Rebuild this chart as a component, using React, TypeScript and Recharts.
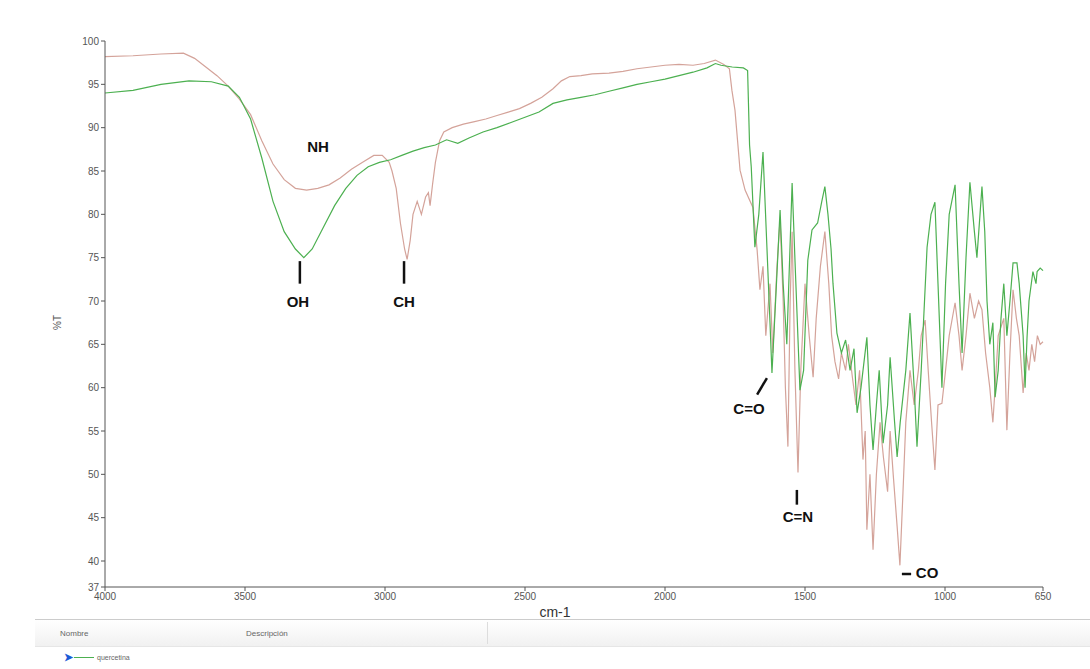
import { LineChart, Line, XAxis, YAxis, ReferenceLine, ReferenceDot } from "recharts"

// wavenumber (cm-1), %T
const quercetina: [number, number][] = [
    [4000, 94.0], [3900, 94.3], [3800, 95.0], [3700, 95.4], [3620, 95.3], [3560, 94.8],
    [3520, 93.5], [3480, 91.0], [3440, 86.5], [3400, 81.5], [3360, 78.0], [3320, 76.0],
    [3290, 75.0], [3260, 76.0], [3220, 78.5], [3180, 81.0], [3140, 83.0], [3100, 84.5],
    [3060, 85.5], [3020, 86.0], [2980, 86.3], [2940, 86.8], [2900, 87.3], [2860, 87.7],
    [2820, 88.0], [2780, 88.6], [2740, 88.2], [2700, 88.8], [2650, 89.5], [2600, 90.0],
    [2550, 90.6], [2500, 91.2], [2450, 91.8], [2400, 92.8], [2350, 93.2], [2300, 93.5],
    [2250, 93.8], [2200, 94.2], [2150, 94.6], [2100, 95.0], [2050, 95.3], [2000, 95.6],
    [1950, 96.0], [1900, 96.4], [1850, 96.9], [1820, 97.4], [1800, 97.2], [1760, 97.0],
    [1720, 96.9], [1705, 96.6], [1698, 88.0], [1692, 85.5], [1679, 76.2], [1665, 80.0],
    [1650, 87.2], [1636, 76.2], [1625, 67.5], [1618, 61.7], [1605, 70.0], [1589, 80.5],
    [1578, 72.0], [1565, 65.0], [1546, 83.6], [1535, 74.0], [1518, 59.7], [1505, 62.0],
    [1490, 74.7], [1475, 78.2], [1455, 79.0], [1440, 81.5], [1429, 83.2], [1418, 80.0],
    [1407, 76.0], [1400, 72.0], [1386, 66.3], [1370, 64.0], [1355, 65.5], [1339, 62.0],
    [1325, 64.5], [1314, 57.1], [1300, 60.0], [1279, 65.8], [1268, 58.0], [1257, 52.8],
    [1245, 58.0], [1235, 62.0], [1221, 53.6], [1205, 58.0], [1196, 63.5], [1180, 56.0],
    [1171, 52.0], [1160, 56.0], [1140, 62.0], [1125, 68.6], [1110, 60.0], [1100, 53.2],
    [1085, 62.0], [1064, 76.2], [1050, 80.0], [1036, 81.4], [1025, 72.0], [1011, 60.0],
    [998, 72.0], [985, 80.0], [964, 83.4], [950, 72.0], [939, 64.0], [925, 75.0],
    [911, 83.7], [895, 78.0], [886, 75.0], [875, 80.0], [868, 83.2], [858, 78.0],
    [850, 70.0], [840, 65.0], [829, 67.5], [821, 58.9], [810, 62.0], [800, 68.0],
    [790, 72.0], [779, 66.0], [768, 70.0], [757, 74.4], [743, 74.4], [735, 72.0],
    [721, 66.0], [714, 60.0], [707, 65.8], [700, 70.0], [686, 73.4], [675, 72.0],
    [671, 73.4], [660, 73.8], [650, 73.5],
]

const derivado: [number, number][] = [
    [4000, 98.2], [3900, 98.3], [3800, 98.5], [3720, 98.6], [3680, 98.0], [3640, 97.0],
    [3600, 96.0], [3560, 94.8], [3520, 93.3], [3480, 91.5], [3440, 88.5], [3400, 85.8],
    [3360, 84.0], [3320, 83.0], [3280, 82.8], [3240, 83.0], [3200, 83.4], [3160, 84.2],
    [3120, 85.2], [3080, 86.0], [3040, 86.8], [3010, 86.8], [2985, 86.0], [2975, 85.0],
    [2960, 83.0], [2945, 79.0], [2930, 76.0], [2921, 74.8], [2910, 77.0], [2900, 80.0],
    [2885, 81.5], [2870, 80.0], [2855, 82.0], [2845, 82.5], [2839, 81.0], [2830, 83.5],
    [2820, 86.0], [2805, 88.5], [2790, 89.5], [2760, 90.0], [2720, 90.4], [2680, 90.7],
    [2640, 91.0], [2600, 91.4], [2560, 91.8], [2520, 92.2], [2480, 92.8], [2440, 93.5],
    [2400, 94.5], [2370, 95.4], [2340, 95.9], [2300, 96.0], [2260, 96.2], [2200, 96.3],
    [2150, 96.5], [2100, 96.8], [2050, 97.0], [2000, 97.2], [1950, 97.3], [1900, 97.2],
    [1860, 97.4], [1820, 97.8], [1790, 97.3], [1770, 96.8], [1761, 94.3], [1750, 92.0],
    [1732, 85.1], [1714, 82.8], [1686, 80.8], [1671, 75.9], [1661, 71.3], [1650, 74.0],
    [1640, 66.0], [1625, 72.0], [1615, 64.0], [1600, 74.0], [1589, 79.5], [1578, 70.0],
    [1570, 60.0], [1561, 53.2], [1553, 70.0], [1546, 78.0], [1536, 62.0], [1525, 50.2],
    [1515, 62.0], [1500, 72.0], [1485, 66.0], [1471, 61.2], [1460, 68.0], [1445, 74.0],
    [1429, 78.0], [1415, 72.0], [1405, 66.0], [1393, 63.0], [1380, 61.0], [1370, 64.0],
    [1355, 62.0], [1345, 65.0], [1330, 61.0], [1318, 58.0], [1305, 62.0], [1293, 51.7],
    [1285, 55.0], [1279, 43.6], [1268, 50.0], [1257, 41.3], [1245, 50.0], [1232, 56.0],
    [1220, 52.0], [1205, 48.0], [1196, 55.0], [1185, 50.0], [1171, 44.0], [1161, 39.5],
    [1150, 48.0], [1140, 56.0], [1125, 62.0], [1110, 58.0], [1095, 62.0], [1085, 66.0],
    [1071, 67.8], [1060, 62.0], [1048, 56.0], [1036, 50.5], [1025, 58.0], [1011, 58.2],
    [998, 62.0], [985, 66.0], [964, 69.8], [950, 66.0], [939, 62.0], [925, 66.0],
    [911, 70.9], [895, 68.0], [880, 70.0], [868, 69.0], [855, 64.0], [840, 60.0],
    [829, 56.0], [821, 60.0], [810, 66.0], [790, 68.0], [779, 55.1], [768, 64.0],
    [757, 71.3], [745, 68.0], [735, 66.0], [721, 59.4], [710, 64.0], [700, 62.0],
    [690, 65.0], [680, 63.0], [670, 66.0], [660, 65.0], [650, 65.3],
]

const X_TICKS = [4000, 3500, 3000, 2500, 2000, 1500, 1000, 650]
const Y_TICKS = [37, 40, 45, 50, 55, 60, 65, 70, 75, 80, 85, 90, 95, 100]

// band labels: text, wavenumber, %T
const BANDS: [string, number, number][] = [
    ["NH", 3239, 87.6],
    ["OH", 3311, 69.8],
    ["CH", 2932, 69.8],
    ["C=O", 1700, 57.4],
    ["C=N", 1525, 45.0],
    ["CO", 1064, 38.5],
]

// marker strokes: [wn1, t1, wn2, t2]
const MARKS: [number, number, number, number][] = [
    [3304, 74.6, 3304, 72.0],
    [2932, 74.6, 2932, 72.0],
    [1671, 59.2, 1636, 61.1],
    [1529, 48.2, 1529, 46.5],
    [1154, 38.5, 1121, 38.5],
]

const toRows = (pts: [number, number][]) => pts.map(([wn, t]) => ({ wn, t }))

const tickStyle = { fontSize: 10, fill: "#555", fontFamily: "Liberation Sans, Arial, sans-serif" }

export default function App() {
    return (
        <div style={{ position: "absolute", left: 0, top: 0, width: 1090, height: 669, background: "#fff", fontFamily: "Liberation Sans, Arial, sans-serif" }}>
            <LineChart width={1090} height={620} margin={{ top: 41, right: 47, bottom: 1, left: 45 }}>
                <XAxis
                    type="number"
                    dataKey="wn"
                    domain={[650, 4000]}
                    reversed
                    ticks={X_TICKS}
                    interval={0}
                    tickSize={4}
                    height={32}
                    stroke="#555"
                    tick={tickStyle}
                    label={{ value: "cm-1", position: "insideBottom", offset: 2, dx: -19, fontSize: 14, fill: "#333" }}
                />
                <YAxis
                    type="number"
                    domain={[37, 100]}
                    ticks={Y_TICKS}
                    interval={0}
                    tickSize={4}
                    width={60}
                    stroke="#555"
                    tick={tickStyle}
                    label={{ value: "%T", angle: -90, position: "insideLeft", offset: 12, dy: 16, fontSize: 10, fill: "#555" }}
                />
                <Line data={toRows(derivado)} dataKey="t" stroke="#d4a39a" strokeWidth={1.2} dot={false} isAnimationActive={false} />
                <Line data={toRows(quercetina)} dataKey="t" stroke="#4cb050" strokeWidth={1.2} dot={false} isAnimationActive={false} />
                {MARKS.map(([x1, y1, x2, y2], i) => (
                    <ReferenceLine key={"m" + i} segment={[{ x: x1, y: y1 }, { x: x2, y: y2 }]} stroke="#111" strokeWidth={2.5} />
                ))}
                {BANDS.map(([txt, wn, t]) => (
                    <ReferenceDot
                        key={txt}
                        x={wn}
                        y={t}
                        r={0}
                        isFront
                        shape={(p: any) => (
                            <text x={p.cx} y={p.cy} textAnchor="middle" dominantBaseline="middle" fontSize={15} fontWeight="bold" fill="#111">
                                {txt}
                            </text>
                        )}
                    />
                ))}
            </LineChart>
            <div style={{ position: "absolute", left: 35, top: 619, width: 1055, height: 26, borderTop: "1px solid #ccc", borderBottom: "1px solid #e6e6e6", background: "linear-gradient(#ffffff, #f1f1f1)" }}>
                <span style={{ position: "absolute", left: 25, top: 9, fontSize: 8, color: "#666" }}>Nombre</span>
                <span style={{ position: "absolute", left: 211, top: 9, fontSize: 8, color: "#666" }}>Descripción</span>
                <div style={{ position: "absolute", left: 452, top: 2, width: 1, height: 22, background: "#ddd" }} />
            </div>
            <div style={{ position: "absolute", left: 64, top: 651, height: 12, display: "flex", alignItems: "center" }}>
                <span style={{ color: "#1a5bd6", fontSize: 11, fontWeight: "bold", lineHeight: "12px" }}>➤</span>
                <div style={{ width: 20, height: 1, background: "#4cb050", marginLeft: 1 }} />
                <span style={{ fontSize: 7, color: "#666", marginLeft: 3 }}>quercetina</span>
            </div>
        </div>
    )
}
